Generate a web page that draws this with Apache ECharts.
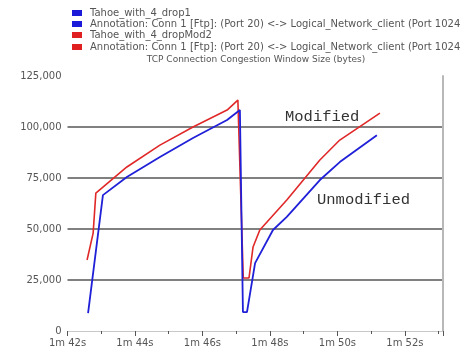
<!DOCTYPE html>
<html>
<head>
<meta charset="utf-8">
<script src="https://cdn.jsdelivr.net/npm/echarts@6/dist/echarts.min.js"></script>
<style>html,body{margin:0;padding:0;background:#fff}#c{width:464px;height:358px}</style>
</head>
<body>
<div id="c"></div>
<script>
// Time in seconds (1m 42s = 102 s), window size in bytes
var unmodTimes = [102.61, 103.05, 103.76, 104.74, 105.72, 106.73, 107.11, 107.20, 107.32, 107.56, 108.09, 108.50, 109.48, 110.07, 111.17];
var unmodValues = [8800, 66600, 75500, 85300, 94600, 103400, 108300, 9300, 9300, 33300, 49500, 55900, 74000, 82800, 96000];
var modTimes = [102.58, 102.76, 102.84, 103.76, 104.74, 105.72, 106.73, 107.05, 107.21, 107.38, 107.50, 107.70, 108.50, 109.48, 110.07, 111.26];
var modValues = [34800, 48000, 67600, 80400, 91100, 100000, 108300, 113200, 26000, 26000, 41200, 49500, 64200, 83800, 93600, 106800];
var yTicks = [0, 25000, 50000, 75000, 100000, 125000];
var legendNames = [
  'Tahoe_with_4_drop1',
  'Annotation: Conn 1 [Ftp]: (Port 20) <-> Logical_Network_client (Port 1024',
  'Tahoe_with_4_dropMod2',
  'Annotation: Conn 1 [Ftp]: (Port 20) <-> Logical_Network_client (Port 1024'
];
var legendColors = ['#1a1ad8', '#1a1ad8', '#e02020', '#e02020'];
var chartTitle = 'TCP Connection Congestion Window Size (bytes)';
var annotations = ['Modified', 'Unmodified'];

function zip(a, b) { return a.map(function (v, i) { return [v, b[i]]; }); }
function fmtTime(v) { var s = Math.round(v); return Math.floor(s / 60) + 'm ' + (s % 60) + 's'; }
function fmtNum(v) { return String(v).replace(/\B(?=(\d{3})+(?!\d))/g, ','); }

var FONT = 'DejaVu Sans';
var TXT = '#555';
var legendRows = [13, 24, 35, 47];
var graphics = [];
legendNames.forEach(function (n, i) {
  var y = legendRows[i];
  graphics.push({ type: 'rect', x: 72, y: y - 3, shape: { width: 10, height: 6 }, style: { fill: legendColors[i] } });
  graphics.push({ type: 'text', x: 90, y: y, style: { text: n, font: '10px "' + FONT + '"', fill: TXT, verticalAlign: 'middle' } });
});
graphics.push({ type: 'text', x: 256, y: 60, style: { text: chartTitle, font: '9px "' + FONT + '"', fill: TXT, align: 'center', verticalAlign: 'middle' } });
graphics.push({ type: 'text', x: 285, y: 117, style: { text: annotations[0], font: '15.5px "Liberation Mono"', fill: '#333', verticalAlign: 'middle' } });
graphics.push({ type: 'text', x: 317, y: 200, style: { text: annotations[1], font: '15.5px "Liberation Mono"', fill: '#333', verticalAlign: 'middle' } });

var chart = echarts.init(document.getElementById('c'));
chart.setOption({
  animation: false,
  backgroundColor: '#fff',
  grid: { left: 67.5, right: 21, top: 76, bottom: 27 },
  xAxis: {
    type: 'value', min: 102, max: 113.13, interval: 2,
    axisLine: { lineStyle: { color: '#c8c8c8', width: 1 } },
    axisTick: { length: 5, lineStyle: { color: '#555' } },
    minorTick: { show: true, splitNumber: 2, length: 3, lineStyle: { color: '#555' } },
    axisLabel: { formatter: function (v) { return v > 112.5 ? '' : fmtTime(v); }, fontFamily: FONT, fontSize: 10, color: TXT, margin: 7, showMaxLabel: false },
    splitLine: { show: false }
  },
  yAxis: [{
    type: 'value', min: yTicks[0], max: yTicks[yTicks.length - 1], interval: 25000,
    axisLine: { show: false }, axisTick: { show: false },
    axisLabel: { formatter: fmtNum, fontFamily: FONT, fontSize: 10, color: TXT, margin: 6 },
    splitLine: { show: true, lineStyle: { color: ['rgba(0,0,0,0)', '#808080', '#808080', '#808080', '#808080', 'rgba(0,0,0,0)'], width: 2 } }
  }, {
    type: 'value', position: 'right', min: 0, max: 125000,
    axisLine: { show: true, lineStyle: { color: '#b8b8b8', width: 2 } },
    axisTick: { show: false }, axisLabel: { show: false }, splitLine: { show: false }
  }],
  graphic: graphics,
  series: [{
    type: 'line', name: legendNames[2], data: zip(modTimes, modValues), showSymbol: false,
    lineStyle: { color: '#e02828', width: 1.6 }, z: 2
  }, {
    type: 'line', name: legendNames[0], data: zip(unmodTimes, unmodValues), showSymbol: false,
    lineStyle: { color: '#2020d8', width: 1.8 }, z: 3
  }]
});
</script>
</body>
</html>
